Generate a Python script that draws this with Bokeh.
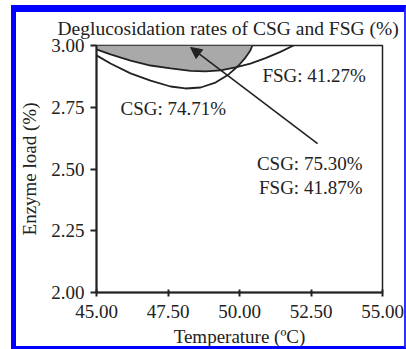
import numpy as np
from bokeh.plotting import figure
from bokeh.models import (Range1d, FixedTicker, NumeralTickFormatter, Arrow,
                          NormalHead)
from bokeh.core.properties import value
from bokeh.embed import file_html
from bokeh.resources import INLINE

# ---------------- data ----------------
title_text = "Deglucosidation rates of CSG and FSG (%)"
x_label = "Temperature (ºC)"
y_label = "Enzyme load (%)"
x_ticks = [45.0, 47.5, 50.0, 52.5, 55.0]
y_ticks = [2.00, 2.25, 2.50, 2.75, 3.00]

# FSG = 41.27 % contour
fsg_temp = [45.00, 45.49, 46.19, 46.89, 47.59, 48.29, 48.81, 49.34, 49.86, 50.38, 50.91, 51.43, 51.89]
fsg_load = [2.984, 2.964, 2.939, 2.919, 2.907, 2.897, 2.895, 2.899, 2.911, 2.927, 2.949, 2.974, 3.000]
# CSG = 74.71 % contour
csg_temp = [45.00, 45.49, 46.19, 46.89, 47.59, 48.11, 48.64, 49.16, 49.62, 49.97, 50.21, 50.38, 50.45]
csg_load = [2.960, 2.927, 2.887, 2.858, 2.834, 2.826, 2.830, 2.850, 2.883, 2.919, 2.951, 2.980, 3.000]

contour_labels = ["CSG: 74.71%", "FSG: 41.27%"]
optimum_labels = ["CSG: 75.30%", "FSG: 41.87%"]
opt_temp, opt_load = 48.29, 2.992

FONT = "Liberation Serif"
FS = "19px"
INK = "#222222"

# ---------------- figure ----------------
p = figure(width=395, height=344, output_backend="svg", toolbar_location=None,
           x_range=Range1d(45, 55), y_range=Range1d(2.0, 3.0),
           min_border_left=80, min_border_right=29, min_border_top=33, min_border_bottom=64)
p.margin = (5, 0, 0, 11)
p.styles = {"border-left": "5px solid #0000ff", "border-top": "7px solid #0000ff",
            "border-right": "2px solid #3030ff", "border-bottom": "3px solid #0000ff"}
p.background_fill_color = "white"
p.border_fill_color = "white"
p.xgrid.visible = False
p.ygrid.visible = False
p.outline_line_color = INK
p.outline_line_width = 1.5

p.title.text = title_text
p.title.text_font = FONT
p.title.text_font_size = "19.5px"
p.title.text_font_style = "normal"
p.title.text_color = INK
p.title.align = "left"
p.title.offset = -39
p.title.vertical_align = "top"
p.title.standoff = 10

for ax in (p.xaxis[0], p.yaxis[0]):
    ax.axis_line_color = INK
    ax.axis_line_width = 2
    ax.major_tick_line_color = INK
    ax.major_tick_line_width = 2
    ax.minor_tick_line_color = None
    ax.major_label_text_font = FONT
    ax.major_label_text_font_size = FS
    ax.major_label_text_color = INK
    ax.axis_label_text_font = FONT
    ax.axis_label_text_font_size = FS
    ax.axis_label_text_font_style = "normal"
    ax.axis_label_text_color = INK
    ax.formatter = NumeralTickFormatter(format="0.00")

p.xaxis.ticker = FixedTicker(ticks=x_ticks)
p.yaxis.ticker = FixedTicker(ticks=y_ticks)
p.xaxis.axis_label = x_label
p.yaxis.axis_label = y_label
p.xaxis.major_tick_in = 3
p.xaxis.major_tick_out = 4
p.yaxis.major_tick_in = 0
p.yaxis.major_tick_out = 6
p.xaxis.major_label_standoff = 8
p.yaxis.major_label_standoff = 6
p.xaxis.axis_label_standoff = 5
p.yaxis.axis_label_standoff = 8

# ---------------- overlap (gray) region ----------------
t = np.linspace(fsg_temp[0], csg_temp[-1], 300)
lower = np.maximum(np.interp(t, fsg_temp, fsg_load), np.interp(t, csg_temp, csg_load))
p.varea(x=t, y1=lower, y2=np.full_like(t, 3.0), fill_color="#a9a9a9", fill_alpha=1)

# ---------------- contour lines ----------------
p.line(fsg_temp, fsg_load, line_color=INK, line_width=1.8)
p.line(csg_temp, csg_load, line_color=INK, line_width=1.8)

# ---------------- labels ----------------
p.text(x=[45.84, 50.80], y=[2.745, 2.878], text=contour_labels,
       text_font=value(FONT), text_font_size=FS, text_color=INK,
       text_align="left", text_baseline="alphabetic")
p.text(x=[54.30, 54.30], y=[2.522, 2.425], text=optimum_labels,
       text_font=value(FONT), text_font_size=FS, text_color=INK,
       text_align="right", text_baseline="alphabetic")

p.add_layout(Arrow(end=NormalHead(size=11, fill_color=INK, line_color=INK),
                   x_start=52.73, y_start=2.603, x_end=opt_temp, y_end=opt_load,
                   line_color=INK, line_width=1.6))

open("out.html", "w").write(file_html(p, INLINE))
